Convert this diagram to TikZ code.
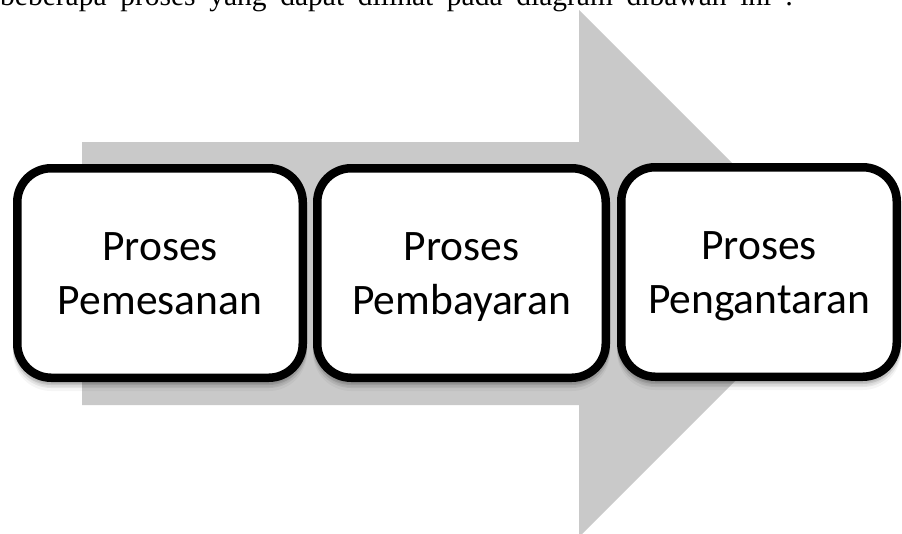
\documentclass[tikz,border=0pt]{standalone}
\usepackage{fontspec}
\setmainfont{Carlito}
\newfontfamily\topfont{Liberation Serif}
\usetikzlibrary{shadows}
\definecolor{arrowgray}{RGB}{201,201,201}
\begin{document}
\begin{tikzpicture}[x=1pt,y=-1pt,
  procbox/.style={draw=black, line width=8.5pt, fill=white, rounded corners=34pt,
    inner sep=0pt, align=center, font=\fontsize{43.5}{54}\selectfont,
    text height=82pt, text depth=0pt, minimum height=209.5pt,
    general shadow={draw=black, fill=black, line width=8.5pt, opacity=0.10, shadow yshift=-3pt},
    general shadow={draw=black, fill=black, line width=8.5pt, opacity=0.07, shadow yshift=-6pt},
    general shadow={draw=black, fill=black, line width=8.5pt, opacity=0.04, shadow yshift=-9pt}},
  introtext/.style={anchor=base west, inner sep=0pt, font=\topfont\fontsize{29.5}{30}\selectfont}]
\useasboundingbox (0,0) rectangle (902,533);
\clip (0,0) rectangle (902,533);
% intro line (cut at top)
\node[introtext] (intro) at (0,5) {\makebox[793pt][s]{beberapa proses yang dapat dilihat pada diagram dibawah ini :}};
% big arrow
\fill[arrowgray] (82,142) -- (579,142) -- (579,10) -- (842.5,273.5) -- (579,537) -- (579,405) -- (82,405) -- cycle;
% process boxes
\node[procbox, minimum width=285.5pt] (b1) at (160,273) {Proses\\Pemesanan};
\node[procbox, minimum width=288.5pt] (b2) at (461.5,273) {Proses\\Pembayaran};
\node[procbox, minimum width=275.5pt] (b3) at (759,272) {Proses\\Pengantaran};
\end{tikzpicture}
\end{document}
